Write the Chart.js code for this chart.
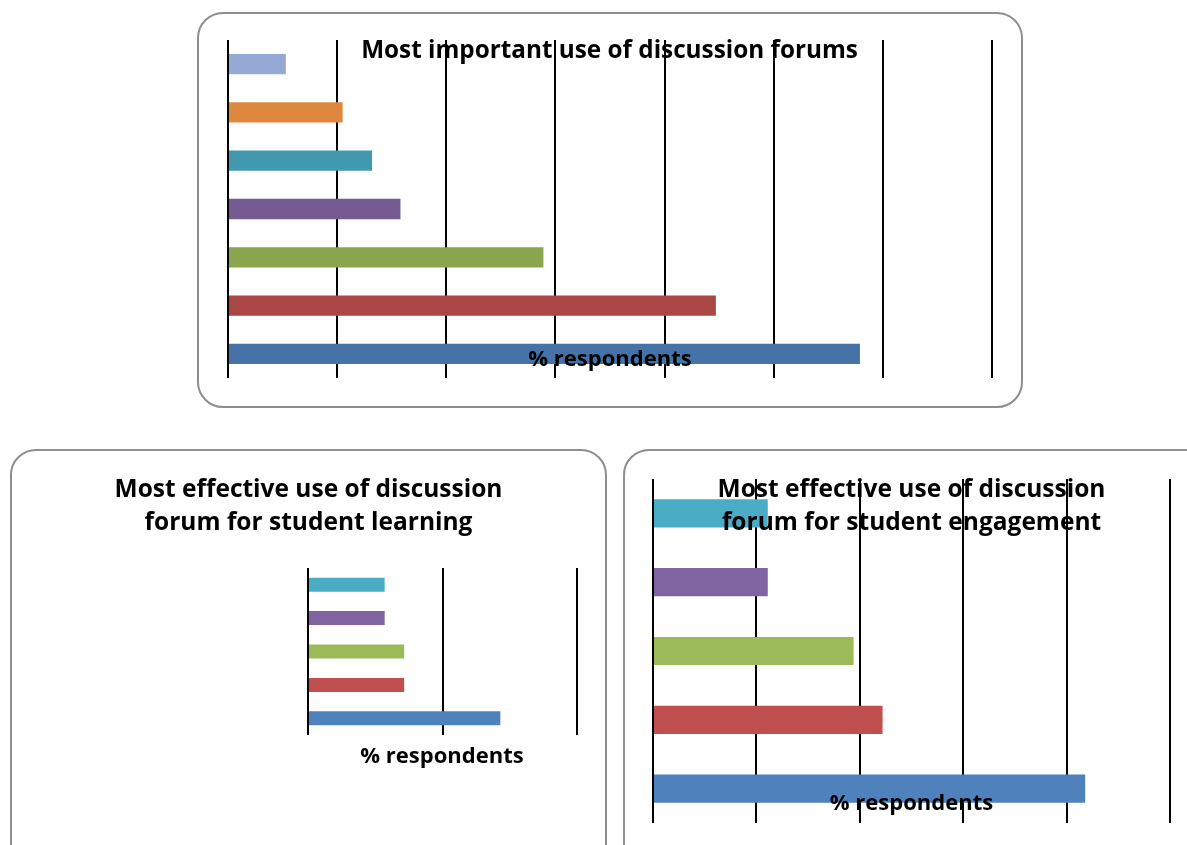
<!DOCTYPE html>
<html>
<head>
<meta charset="utf-8">
<script src="https://cdn.jsdelivr.net/npm/chart.js@4.4.1/dist/chart.umd.min.js"></script>
<style>
  html, body { margin: 0; padding: 0; background: #fff; width: 1187px; height: 845px; overflow: hidden; position: relative; }
  .wrap { position: absolute; }
  .wrap canvas { position: absolute; left: 0; top: 0; }
  .frame { position: absolute; border: 2px solid #8e8e8e; border-radius: 26px; box-sizing: border-box; pointer-events: none; }
</style>
</head>
<body>
<div class="frame" style="left:197px;top:12px;width:826px;height:396px;"></div>
<div class="wrap" style="left:197px;top:12px;width:826px;height:396px;"><canvas id="c1"></canvas></div>

<div class="frame" style="left:10px;top:449px;width:597px;height:430px;"></div>
<div class="wrap" style="left:10px;top:449px;width:597px;height:396px;"><canvas id="c2"></canvas></div>

<div class="frame" style="left:623px;top:449px;width:600px;height:430px;"></div>
<div class="wrap" style="left:623px;top:449px;width:580px;height:420px;"><canvas id="c3"></canvas></div>

<script>
// ---- Data ----
const labels1 = ["Use 1", "Use 2", "Use 3", "Use 4", "Use 5", "Use 6", "Use 7"];
const values1 = [5.3, 10.5, 13.2, 15.8, 28.9, 44.7, 57.9];
const colors1 = ["#94A9D3", "#DE873F", "#4299AF", "#735A91", "#89A54E", "#AA4644", "#4572A7"];
const title1 = ["Most important use of discussion forums"];

const labels2 = ["Use 1", "Use 2", "Use 3", "Use 4", "Use 5"];
const values2 = [11.4, 11.4, 14.3, 14.3, 28.6];
const colors2 = ["#4BACC6", "#8064A2", "#9BBB59", "#C0504D", "#4F81BD"];
const title2 = ["Most effective use of discussion", "forum for student learning"];

const labels3 = ["Use 1", "Use 2", "Use 3", "Use 4", "Use 5"];
const values3 = [11.1, 11.1, 19.4, 22.2, 41.8];
const colors3 = ["#4BACC6", "#8064A2", "#9BBB59", "#C0504D", "#4F81BD"];
const title3 = ["Most effective use of discussion", "forum for student engagement"];

const axisTitle = "% respondents";

// ---- Text overlay plugin ----
const textPlugin = {
  id: 'overlayText',
  afterDraw(chart, args, opts) {
    const ctx = chart.ctx;
    ctx.save();
    ctx.fillStyle = '#000';
    ctx.textAlign = 'center';
    ctx.textBaseline = 'alphabetic';
    ctx.font = opts.font;
    opts.lines.forEach((ln, i) => {
      ctx.fillText(ln, opts.titleX, opts.titleY + i * opts.lineHeight);
    });
    ctx.font = opts.axisFont;
    ctx.fillText(opts.axisText, opts.axisX, opts.axisY);
    ctx.restore();
  }
};

function makeChart(id, labels, values, colors, barPct, max, step, pad, textOpts) {
  return new Chart(document.getElementById(id), {
    type: 'bar',
    data: {
      labels: labels,
      datasets: [{ data: values, backgroundColor: colors, borderWidth: 0,
                   categoryPercentage: 1.0, barPercentage: barPct }]
    },
    options: {
      indexAxis: 'y',
      responsive: true,
      maintainAspectRatio: false,
      animation: false,
      layout: { padding: pad },
      plugins: { legend: { display: false }, tooltip: { enabled: false }, title: { display: false },
                 overlayText: textOpts },
      scales: {
        x: { min: 0, max: max, ticks: { display: false, stepSize: step },
             grid: { color: '#000', lineWidth: 2, drawTicks: false },
             border: { display: false } },
        y: { display: false }
      }
    },
    plugins: [textPlugin]
  });
}

const titleFont = "bold 24.5px 'Open Sans', Lato, sans-serif";
const axisFont = "bold 22px 'Open Sans', Lato, sans-serif";

makeChart('c1', labels1, values1, colors1, 0.42, 70, 10,
  { left: 31, top: 28, right: 31, bottom: 30 },
  { font: "bold 24.3px 'Open Sans', Lato, sans-serif", axisFont: axisFont, lines: title1,
    titleX: 412.5, titleY: 45.5, lineHeight: 33,
    axisText: axisTitle, axisX: 413, axisY: 354 });

makeChart('c2', labels2, values2, colors2, 0.42, 40, 20,
  { left: 298, top: 119, right: 30, bottom: 110 },
  { font: titleFont, axisFont: axisFont, lines: title2, titleX: 298.5, titleY: 48, lineHeight: 33,
    axisText: axisTitle, axisX: 432, axisY: 314 });

makeChart('c3', labels3, values3, colors3, 0.41, 50, 10,
  { left: 30, top: 30, right: 33, bottom: 46 },
  { font: titleFont, axisFont: axisFont, lines: title3, titleX: 288.5, titleY: 48, lineHeight: 33,
    axisText: axisTitle, axisX: 288.5, axisY: 361 });
</script>
</body>
</html>
